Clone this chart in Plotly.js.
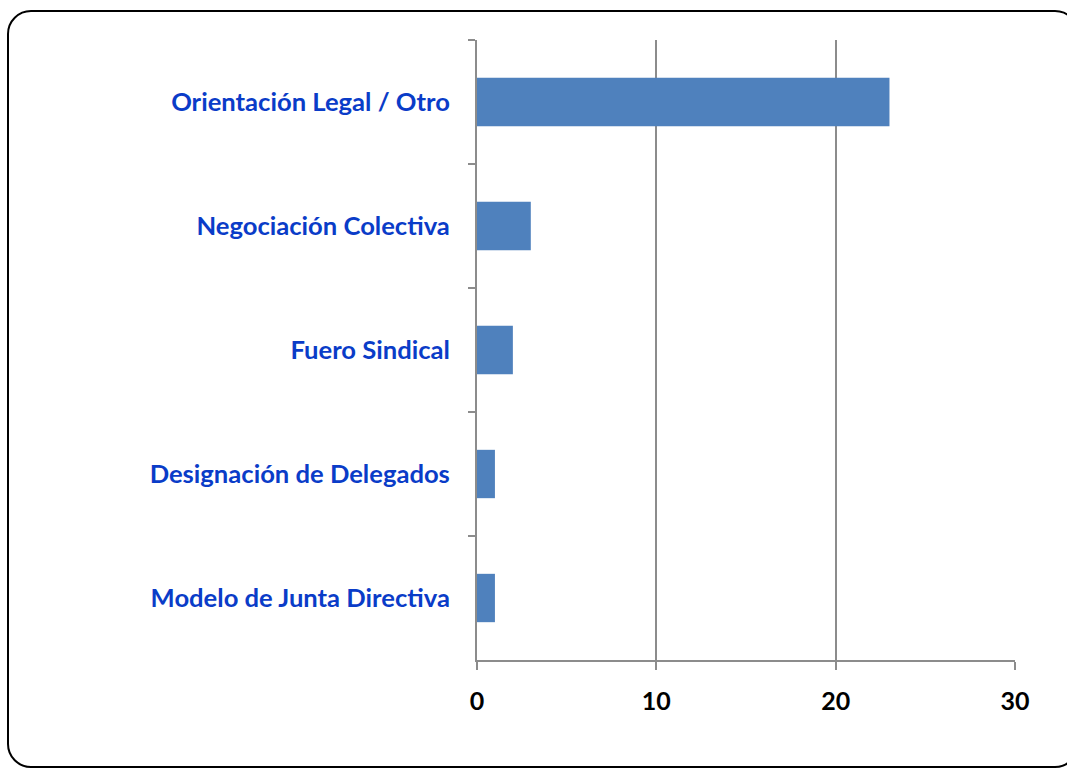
<!DOCTYPE html>
<html><head><meta charset="utf-8">
<script src="https://cdn.plot.ly/plotly-3.0.1.min.js"></script>
<style>
html,body{margin:0;padding:0;background:#fff;width:1067px;height:769px;overflow:hidden;}
#frame{position:absolute;left:7px;top:10px;width:1072px;height:758px;border:2px solid #000;border-radius:24px;box-sizing:border-box;}
#chart{position:absolute;left:0;top:0;width:1067px;height:769px;}
</style></head>
<body>
<div id="frame"></div>
<div id="chart"></div>
<script>
const categories = ["Orientación Legal / Otro","Negociación Colectiva","Fuero Sindical","Designación de Delegados","Modelo de Junta Directiva"];
const values = [23, 3, 2, 1, 1];
const xTicks = [0, 10, 20, 30];

const trace = {
  type: 'bar', orientation: 'h',
  y: categories, x: values,
  marker: {color: '#4F81BD'},
  hoverinfo: 'none'
};
const layout = {
  width: 1067, height: 769,
  margin: {l: 477, r: 52, t: 40, b: 109},
  paper_bgcolor: 'rgba(0,0,0,0)', plot_bgcolor: 'rgba(0,0,0,0)',
  showlegend: false,
  bargap: 0.61,
  font: {family: 'Lato, "Open Sans", sans-serif'},
  xaxis: {
    range: [0, 30], tickvals: xTicks, ticktext: xTicks.map(String),
    showgrid: true, gridcolor: '#8c8c8c', gridwidth: 2,
    showline: true, linecolor: '#8c8c8c', linewidth: 2,
    ticks: 'outside', ticklen: 8, tickwidth: 2, tickcolor: '#8c8c8c',
    tickfont: {family: 'Lato, sans-serif', size: 25, color: '#000', weight: 'bold'},
    ticklabelstandoff: 10,
    zeroline: false, fixedrange: true
  },
  yaxis: {
    type: 'category', autorange: 'reversed',
    showline: true, linecolor: '#8c8c8c', linewidth: 2,
    ticks: 'outside', tickson: 'boundaries', ticklen: 7, tickwidth: 2, tickcolor: '#8c8c8c',
    tickfont: {family: 'Lato, sans-serif', size: 25.6, color: '#0A3CC8', weight: 'bold'},
    ticklabelstandoff: 20,
    showgrid: false, zeroline: false, fixedrange: true
  }
};
Plotly.newPlot('chart', [trace], layout, {staticPlot: true, displayModeBar: false});
</script>
</body></html>
